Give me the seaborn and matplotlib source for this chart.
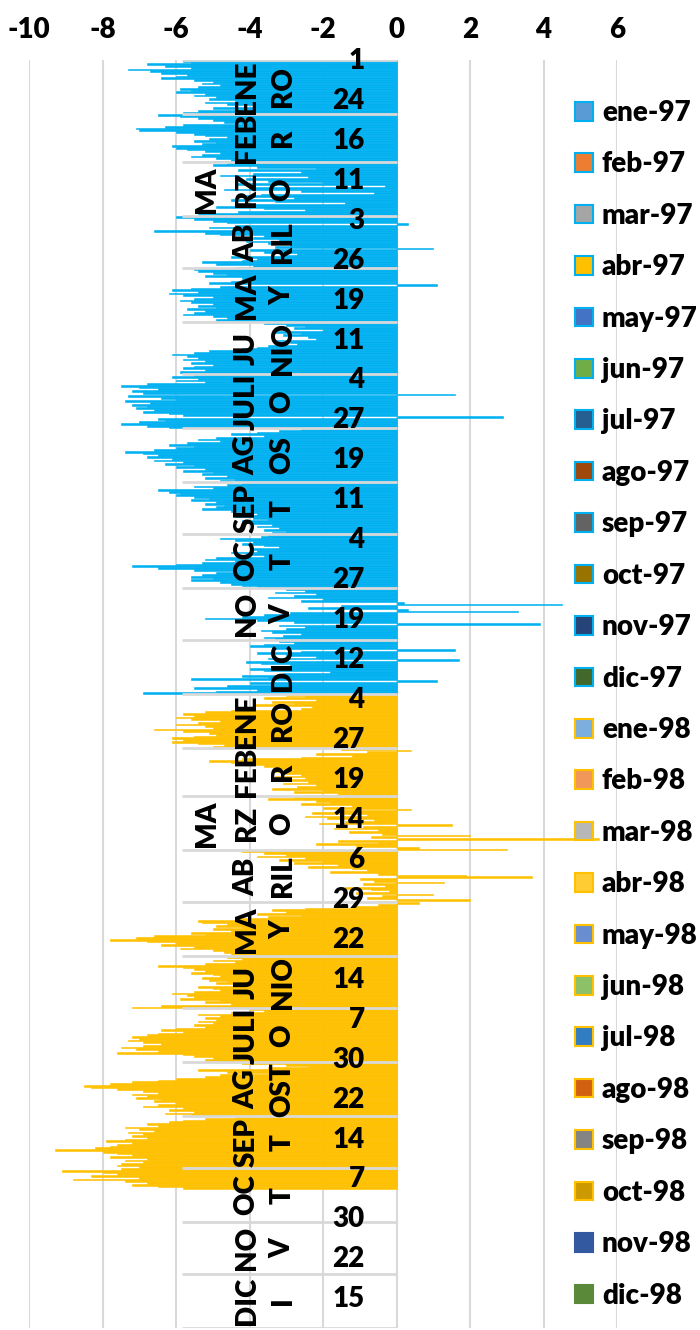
import numpy as np
import pandas as pd
import seaborn as sns
import matplotlib.pyplot as plt
from matplotlib.patches import Patch

# valores diarios (ene-97 ... 12-oct-98)
ene97 = [-5.8, -5.6, -6.8, -6.3, -5.6, -7.3, -6.7, -6.4, -5.7, -6.0,
         -6.4, -5.5, -5.0, -5.3, -4.8, -5.4, -5.9, -5.6, -6.0, -5.2,
         -5.5, -4.9, -5.1, -4.4, -5.2, -4.6, -3.9, -5.0, -4.3, -5.4, -5.8]
feb97 = [-6.5, -5.9, -5.4, -5.0, -4.7, -4.2, -5.8, -6.3, -7.1, -7.0,
         -6.0, -5.5, -5.2, -4.6, -5.1, -5.5, -4.9, -5.3, -6.1, -6.0,
         -5.7, -5.2, -4.8, -5.3, -5.6, -4.9, -4.5, -5.0]
mar97 = [-4.6, -5.0, -3.8, -2.2, -4.3, -2.6, -3.9, -4.8, -2.4, -4.1,
         -3.5, -2.0, -4.4, -0.3, -3.9, -4.7, -2.6, -0.6, -3.7, -4.2,
         -2.8, -4.5, -3.3, -1.4, -4.0, -4.9, -3.6, -2.5, -4.3, -5.4, -4.0]
abr97 = [-6.0, -5.5, -5.0, -4.6, 0.3, -4.4, -5.1, -4.0, -6.6, -5.2,
         -4.8, -3.6, -3.9, -3.2, -4.1, -3.5, -2.9, -3.3, 1.0, -4.0,
         -3.6, -2.7, -3.0, -4.5, -3.8, -4.2, -5.3, -4.9, -3.9, -4.4]
may97 = [-5.5, -5.4, -5.0, -4.6, -5.2, -4.2, -3.9, -4.5, -5.1, 1.1,
         -4.8, -5.6, -6.1, -5.4, -6.2, -5.8, -5.0, -5.5, -5.9, -5.6,
         -5.0, -5.4, -4.9, -5.7, -5.2, -5.5, -5.8, -5.0, -4.6, -4.9, -4.4]
jun97 = [-3.6, -3.0, -2.5, -2.8, -2.0, -3.3, -2.6, -3.1, -2.4, -2.2,
         -3.4, -2.9, -2.7, -3.5, -3.8, -4.2, -5.1, -5.5, -6.1, -5.7,
         -5.4, -5.8, -5.2, -5.6, -5.0, -5.5, -5.8, -5.2, -5.9, -5.4]
jul97 = [-5.5, -6.1, -5.4, -6.0, -5.2, -6.8, -7.5, -7.0, -6.5, -7.2,
         -6.9, 1.6, -7.3, -6.4, -6.0, -7.4, -6.7, -7.2, -6.8, -7.1,
         -6.6, -6.9, -6.2, -5.8, 2.9, -6.5, -6.3, -7.0, -7.5, -6.8, -6.2]
ago97 = [-2.6, -3.2, -3.8, -4.5, -3.6, -4.9, -5.4, -4.8, -5.7, -6.2,
         -5.5, -6.0, -6.6, -7.4, -6.9, -6.5, -6.8, -6.1, -6.6, -5.8,
         -6.3, -5.5, -6.0, -5.2, -5.8, -5.0, -5.3, -4.6, -5.2, -4.4, -4.8]
sep97 = [-4.2, -4.6, -5.5, -5.0, -6.5, -6.2, -5.9, -6.0, -5.5, -5.1,
         -5.6, -4.9, -5.2, -4.7, -4.9, -5.3, -4.5, -4.2, -3.8, -4.4,
         -3.9, -3.5, -4.2, -4.0, -3.4, -3.8, -3.2, -3.6, -3.0, -3.4]
oct97 = [-3.5, -3.7, -4.8, -4.4, -3.9, -4.2, -3.6, -3.2, -4.0, -3.8,
         -4.5, -4.1, -3.6, -4.9, -5.2, -4.4, -5.3, -6.0, -7.2, -6.5,
         -5.5, -4.4, -4.9, -5.3, -5.6, -5.0, -5.6, -4.8, -4.5, -4.2, -3.8]
nov97 = [-3.0, -2.5, -3.3, -2.2, -2.8, -3.5, -2.0, -2.6, 0.2, 4.5,
         -1.5, -2.4, 0.3, 3.3, -2.9, -3.6, -4.2, -5.2, -3.8, -2.8,
         3.9, -3.2, -2.5, -3.0, -3.7, -3.4, -2.6, -3.1, -3.6, -3.3]
dic97 = [-3.2, -2.8, -3.6, -4.0, -3.4, 1.6, -2.6, -3.8, -3.0, -2.2,
         -3.5, 1.7, -4.1, -3.7, -2.9, -3.3, -4.0, -3.6, -1.8, -3.1,
         -4.2, -3.5, -5.6, 1.1, -4.0, -3.3, -4.6, -5.5, -3.8, -4.9, -6.9]
ene98 = [-3.0, -2.5, -3.6, -2.2, -3.4, -2.8, -3.9, -2.3, -2.6, -4.5,
         -5.2, -5.8, -5.5, -6.0, -5.6, -4.8, -5.4, -6.0, -5.2, -5.0,
         -6.6, -5.8, -5.1, -4.9, -5.5, -6.1, -5.8, -6.1, -5.4, -4.7, -5.0]
feb98 = [-1.5, 0.4, -0.8, -2.2, -1.2, -2.6, -4.2, -5.1, -4.5, -4.0,
         -3.6, -3.2, -2.8, -3.4, -3.0, -2.6, -3.3, -2.5, -2.9, -2.4,
         -3.1, -2.2, -2.7, -3.4, -2.0, -2.8, -1.6, -2.5]
mar98 = [-2.8, -3.5, -2.2, -1.8, -2.6, -1.2, -2.0, 0.4, -1.5, -2.3,
         -0.8, -2.5, -1.9, -0.6, -1.4, -2.1, 1.5, -0.9, -1.7, -0.5,
         -1.3, -0.4, 2.0, -0.7, 5.5, -1.6, -0.5, -2.2, -1.1, 0.6, 3.0]
abr98 = [-4.2, -3.6, -3.0, -3.8, -2.5, -3.2, -2.0, -2.8, -1.6, -2.4,
         -1.2, -0.8, -1.8, -0.5, 1.9, 3.7, -1.0, -0.6, 1.3, -0.9,
         -0.3, -1.4, -0.7, -0.2, -1.1, 1.0, -0.4, -0.8, 2.0, -0.5]
may98 = [0.6, -0.5, -1.2, -2.5, -3.4, -3.0, -3.8, -2.6, -3.5, -4.4,
         -5.4, -5.3, -4.6, -4.9, -4.2, -5.0, -4.5, -5.6, -5.2, -6.6,
         -7.1, -7.8, -6.8, -6.0, -6.4, -5.5, -5.9, -5.0, -4.7, -4.5, -4.2]
jun98 = [-4.6, -4.2, -5.0, -4.4, -5.2, -6.5, -5.8, -5.5, -5.2, -5.6,
         -5.0, -4.8, -5.3, -5.1, -4.6, -4.9, -4.4, -5.4, -5.0, -4.8,
         -5.5, -6.1, -5.7, -5.5, -5.9, -4.8, -5.2, -4.5, -6.4, -7.2]
jul98 = [-4.0, -3.6, -4.5, -5.4, -4.8, -5.2, -4.9, -5.4, -5.0, -5.5,
         -5.2, -6.0, -6.4, -5.8, -6.5, -6.8, -7.2, -7.0, -7.3, -6.9,
         -6.4, -6.9, -7.5, -7.1, -6.5, -7.6, -5.8, -5.5, -5.0, -5.2, -4.8]
ago98 = [-4.2, -3.0, -2.4, -3.5, -5.4, -4.6, -3.0, -4.8, -5.2, -6.0,
         -6.5, -7.2, -7.8, -8.5, -8.3, -7.6, -6.9, -6.5, -7.2, -6.8,
         -7.1, -6.4, -6.6, -6.0, -6.5, -6.9, -5.8, -6.2, -5.5, -6.3, -5.6]
sep98 = [-4.4, -5.2, -5.8, -6.2, -6.8, -6.5, -7.4, -7.0, -6.6, -7.3,
         -6.9, -7.2, -6.8, -7.4, -7.9, -7.2, -7.6, -7.8, -8.2, -9.3,
         -8.0, -7.6, -7.2, -7.8, -6.8, -7.4, -6.9, -7.5, -7.6, -7.0]
oct98 = [-7.5, -9.1, -8.0, -7.6, -8.3, -7.0, -8.8, -7.4, -6.8, -7.2, -6.5, -5.8]

dias_mes = [31, 28, 31, 30, 31, 30, 31, 31, 30, 31, 30, 31]
meses_leyenda = ['ene', 'feb', 'mar', 'abr', 'may', 'jun',
                 'jul', 'ago', 'sep', 'oct', 'nov', 'dic']
# nombres de mes tal como Excel los parte en lineas (col1, col2, col3)
etiq_97 = [('', 'ENE', 'RO'), ('', 'FEB', 'R'), ('MA', 'RZ', 'O'), ('', 'AB', 'RIL'),
           ('', 'MA', 'Y'), ('', 'JU', 'NIO'), ('', 'JULI', 'O'), ('', 'AG', 'OS'),
           ('', 'SEP', 'T'), ('', 'OC', 'T'), ('', 'NO', 'V'), ('', '', 'DIC')]
etiq_98 = [('', 'ENE', 'RO'), ('', 'FEB', 'R'), ('MA', 'RZ', 'O'), ('', 'AB', 'RIL'),
           ('', 'MA', 'Y'), ('', 'JU', 'NIO'), ('', 'JULI', 'O'), ('', 'AG', 'OST'),
           ('', 'SEP', 'T'), ('', 'OC', 'T'), ('', 'NO', 'V'), ('', 'DIC', 'I')]

colores_97 = ['#5B9BD5', '#ED7D31', '#A5A5A5', '#FFC000', '#4472C4', '#70AD47',
              '#255E91', '#9E480E', '#636363', '#997300', '#264478', '#43682B']
colores_98 = ['#7CAFDD', '#F1975A', '#B7B7B7', '#FFCD33', '#698ED0', '#8CC168',
              '#327DC2', '#D26012', '#848484', '#CC9A00', '#335AA1', '#5A8A39']

azul = '#00B0F0'
oro = '#FFC000'

valores = (ene97 + feb97 + mar97 + abr97 + may97 + jun97 + jul97 + ago97 + sep97 + oct97
           + nov97 + dic97 + ene98 + feb98 + mar98 + abr98 + may98 + jun98 + jul98
           + ago98 + sep98 + oct98)
fechas = pd.date_range('1997-01-01', '1998-12-31', freq='D')

df = pd.DataFrame({'dia': np.arange(len(valores)), 'valor': valores})
df['anio'] = np.where(df['dia'] < 365, '97', '98')

sns.set_theme(style='white')
plt.rcParams['font.family'] = ['Lato', 'DejaVu Sans']
plt.rcParams['font.weight'] = 'heavy'
plt.rcParams['text.color'] = 'black'
plt.rcParams['xtick.color'] = 'black'

fig = plt.figure(figsize=(7, 13.3), dpi=100)
ax = fig.add_axes([29 / 700, 2 / 1330, 588 / 700, 1268 / 1330])

sns.barplot(data=df, x='valor', y='dia', hue='anio', orient='h', native_scale=True,
            palette={'97': azul, '98': oro}, saturation=1, width=1, dodge=False,
            errorbar=None, legend=False, linewidth=0, ax=ax)
for p in ax.patches:
    p.set_edgecolor(p.get_facecolor())
    p.set_linewidth(0.4)

ax.set_xlim(-10, 6)
ax.set_ylim(len(fechas) - 0.5, -0.5)
ticks = list(range(-10, 7, 2))
ax.set_xticks(ticks)
ax.set_xticklabels([str(t) for t in ticks], fontweight='heavy')
ax.xaxis.tick_top()
ax.tick_params(axis='x', length=0, pad=12, labelsize=20, labelcolor='black')
ax.set_yticks([])
ax.set_xlabel('')
ax.set_ylabel('')
ax.grid(axis='x', color='#D9D9D9', linewidth=1.5)
ax.set_axisbelow(True)
sns.despine(ax=ax, left=True, bottom=True, top=True, right=True)

# separadores de mes y etiquetas de categoria
limites = np.concatenate([[0], np.cumsum(dias_mes + dias_mes)])
ax.hlines(limites - 0.5, -5.83, 0, color='#D9D9D9', linewidth=2, zorder=3)

cols_x = [-5.17, -4.08, -3.10]
for k, etq in enumerate(etiq_97 + etiq_98):
    medio = limites[k] + (limites[k + 1] - limites[k] - 1) / 2
    for x, txt in zip(cols_x, etq):
        if txt:
            ax.text(x, medio, txt, rotation=90, ha='center', va='center',
                    fontsize=20, fontweight='heavy', color='black', zorder=4)

for i in range(0, len(fechas), 23):
    ax.text(-0.87, i, str(fechas[i].day), ha='right', va='center',
            fontsize=20, fontweight='heavy', color='black', zorder=4)

# leyenda por mes
handles = []
etiquetas = []
for anio, cols, borde in [('97', colores_97, azul), ('98', colores_98, oro)]:
    for m, c in enumerate(cols):
        b = borde
        if anio == '98' and m >= 10:
            b = c
        handles.append(Patch(facecolor=c, edgecolor=b, linewidth=1.5))
        etiquetas.append(f'{meses_leyenda[m]}-{anio}')

leg = fig.legend(handles=handles, labels=etiquetas, loc='upper left',
                 bbox_to_anchor=(575 / 700, 1 - 100 / 1330), frameon=False,
                 prop={'size': 20, 'weight': 'heavy'},
                 handlelength=0.65, handleheight=0.65, handletextpad=0.32,
                 labelspacing=0.915, borderpad=0, borderaxespad=0)
for t in leg.get_texts():
    t.set_color('black')

fig.savefig('out.png', dpi=100)
